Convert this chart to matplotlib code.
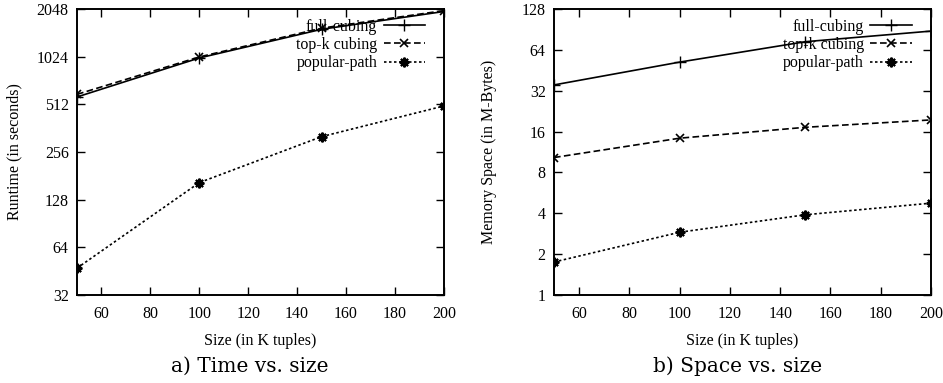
import matplotlib
matplotlib.use("Agg")
from matplotlib import pyplot as plt

# data
sizes = [50, 100, 150, 200]

time_full = [570, 1005, 1525, 1975]
time_topk = [592, 1020, 1550, 2000]
time_popular = [47.3, 164, 320, 500]

space_full = [35.3, 52, 73.5, 88]
space_topk = [10.3, 14.3, 17.2, 19.5]
space_popular = [1.75, 2.9, 3.9, 4.75]

time_ticks = [32, 64, 128, 256, 512, 1024, 2048]
space_ticks = [1, 2, 4, 8, 16, 32, 64, 128]
x_ticks = [60, 80, 100, 120, 140, 160, 180, 200]

plt.rcParams['font.family'] = ['Liberation Serif', 'DejaVu Serif']
plt.rcParams['font.size'] = 11.5

fig = plt.figure(figsize=(9.43, 3.83), dpi=100)
ax1 = fig.add_axes([0.0817, 0.2298, 0.389, 0.7467])
ax2 = fig.add_axes([0.5875, 0.2298, 0.3998, 0.7467])

star = (8, 2, 0)
styles = [
    dict(label="full-cubing", ls="-", marker="+", ms=8, mew=1.0),
    dict(label="top-k cubing", ls=(0, (4, 2)), marker="x", ms=6, mew=1.2),
    dict(label="popular-path", ls=(0, (1.5, 1.5)), marker=star, ms=7, mew=1.5),
]


def setup(ax, series, yticks, ylabel, lpad):
    for ys, st in zip(series, styles):
        ax.plot(sizes, ys, color="black", lw=1.2, **st)
    ax.set_yscale("log", base=2)
    ax.set_ylim(yticks[0], yticks[-1])
    ax.set_yticks(yticks)
    ax.set_yticklabels([str(t) for t in yticks])
    ax.minorticks_off()
    ax.set_xlim(50, 200)
    ax.set_xticks(x_ticks)
    ax.tick_params(direction="in", length=6, width=1, top=True, right=True, pad=6)
    ax.tick_params(axis="x", pad=8)
    for s in ax.spines.values():
        s.set_linewidth(1.4)
    ax.set_xlabel("Size (in K tuples)", labelpad=8)
    ax.set_ylabel(ylabel, labelpad=lpad)
    ax.legend(loc="upper right", bbox_to_anchor=(0.975, 1.0), frameon=False,
              markerfirst=False, handlelength=2.6, handletextpad=0.4,
              labelspacing=0.15, borderaxespad=0.2)


setup(ax1, [time_full, time_topk, time_popular], time_ticks, "Runtime (in seconds)", 10)
setup(ax2, [space_full, space_topk, space_popular], space_ticks, "Memory Space (in M-Bytes)", 18)

fig.text(0.265, 0.03, "a) Time vs. size", ha="center", family="DejaVu Serif", fontsize=14.5)
fig.text(0.782, 0.03, "b) Space vs. size", ha="center", family="DejaVu Serif", fontsize=14.5)

fig.savefig("out.png", dpi=100)
